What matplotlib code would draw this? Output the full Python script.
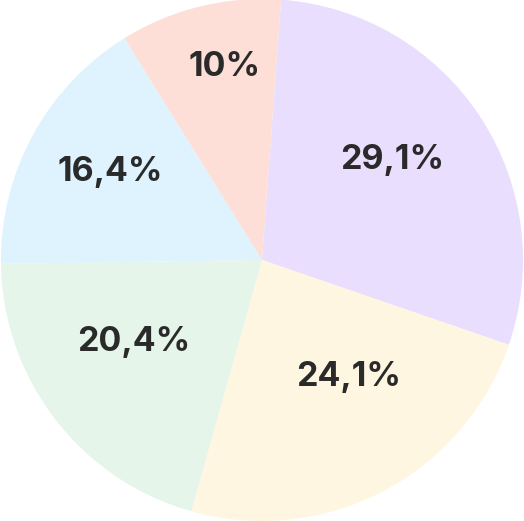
import matplotlib
matplotlib.use("Agg")
import matplotlib.pyplot as plt

labels = ["29,1%", "24,1%", "20,4%", "16,4%", "10%"]
values = [29.1, 24.1, 20.4, 16.4, 10.0]
colors = ["#E9DEFE", "#FEF6E0", "#E5F5EA", "#DEF3FD", "#FEDFD7"]
label_xy = [(0.500, 0.385), (0.331, -0.447), (-0.492, -0.315), (-0.582, 0.337), (-0.144, 0.741)]

W, H = 524, 521
fig = plt.figure(figsize=(W / 100, H / 100), dpi=100)
ax = fig.add_axes([0, 0, 1, 1])
R = 261.0
cx, cy = 262.0, 260.0
ax.pie(values, colors=colors, startangle=85.8, counterclock=False,
       radius=1.0, wedgeprops=dict(linewidth=0, antialiased=True))
ax.set_xlim(-cx / R, (W - cx) / R)
ax.set_ylim(-(H - cy) / R, cy / R)
ax.set_aspect("auto")
ax.axis("off")

for (x, y), t in zip(label_xy, labels):
    ax.text(x, y, t, ha="center", va="center", fontsize=24.5,
            fontweight="bold", family=["Inter", "DejaVu Sans"], color="#2A2A2A")

fig.savefig("out.png", dpi=100, facecolor="white")
